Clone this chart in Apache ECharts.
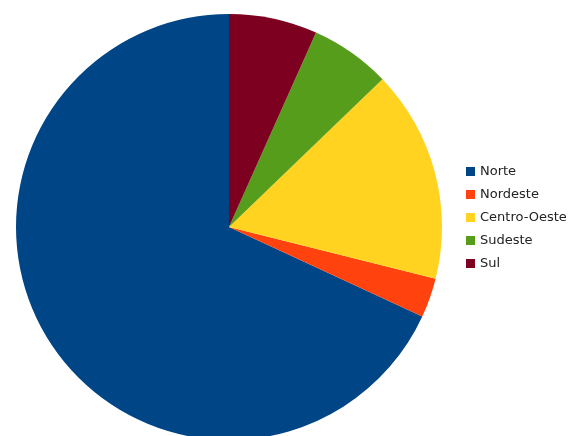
<!DOCTYPE html>
<html>
<head>
<meta charset="utf-8">
<script src="https://cdn.jsdelivr.net/npm/echarts@6/dist/echarts.min.js"></script>
<style>
  html, body { margin: 0; padding: 0; background: #fff; }
  #main { width: 586px; height: 436px; }
</style>
</head>
<body>
<div id="main"></div>
<script>
// regiões e participação (%)
const regioes = ['Norte', 'Nordeste', 'Centro-Oeste', 'Sudeste', 'Sul'];
const valores = [68.1, 3.0, 16.1, 6.1, 6.7];
const cores = ['#004586', '#ff420e', '#ffd320', '#579d1c', '#7e0021'];

const chart = echarts.init(document.getElementById('main'));

const option = {
    animation: false,
    color: cores,
    legend: {
        orient: 'vertical',
        left: 461,
        top: 160,
        icon: 'rect',
        itemWidth: 9,
        itemHeight: 9,
        itemGap: 10,
        textStyle: {
            fontFamily: 'DejaVu Sans',
            fontSize: 13,
            color: '#222'
        },
        data: regioes
    },
    series: [
        {
            type: 'pie',
            center: [229, 227],
            radius: 213,
            startAngle: 90,
            clockwise: false,
            label: { show: false },
            labelLine: { show: false },
            itemStyle: { borderWidth: 0 },
            emphasis: { disabled: true },
            data: regioes.map((nome, i) => ({ name: nome, value: valores[i] }))
        }
    ]
};

chart.setOption(option);
</script>
</body>
</html>
